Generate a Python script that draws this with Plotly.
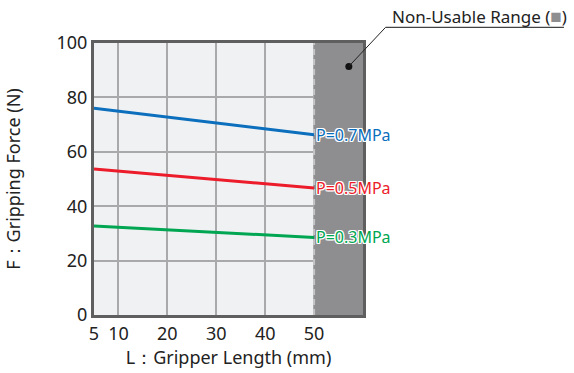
import plotly.graph_objects as go

# Data
lengths = [5, 50]
force_07 = [76.0, 66.3]
force_05 = [53.7, 46.7]
force_03 = [32.7, 28.5]
series_names = ["P=0.7MPa", "P=0.5MPa", "P=0.3MPa"]
series_colors = ["#0b6fbd", "#ec1c2a", "#00a651"]
x_ticks = [5, 10, 20, 30, 40, 50]
y_ticks = [0, 20, 40, 60, 80, 100]
usable_limit = 50
x_min, x_max = 5, 60
y_min, y_max = 0, 100
marker_point = (57.1, 91.4)

FONT = "Noto Sans"
fig = go.Figure()

# Non-usable range
fig.add_shape(type="rect", x0=usable_limit, x1=x_max, y0=y_min, y1=y_max,
              xref="x", yref="y", fillcolor="#8e8e91", line_width=0, layer="between")
fig.add_shape(type="line", x0=usable_limit, x1=usable_limit, y0=y_min, y1=y_max,
              xref="x", yref="y", line=dict(color="#c4c4c6", width=2, dash="6px,4px"), layer="between")

shadow = ", ".join(f"{dx}px {dy}px 0 #fff" for dx in (-1, 0, 1) for dy in (-1, 0, 1) if dx or dy)
for ys, name, col in zip([force_07, force_05, force_03], series_names, series_colors):
    fig.add_trace(go.Scatter(x=lengths, y=ys, mode="lines", line=dict(color=col, width=3),
                             showlegend=False, hoverinfo="skip", cliponaxis=False))
    fig.add_annotation(x=lengths[-1], y=ys[-1], text=name, showarrow=False,
                       xanchor="left", yanchor="middle", xshift=0,
                       font=dict(family=FONT, size=16, color=col, shadow=shadow))

# marker dot
fig.add_trace(go.Scatter(x=[marker_point[0]], y=[marker_point[1]], mode="markers",
                         marker=dict(color="#111", size=7), showlegend=False, hoverinfo="skip"))

# leader line and underline (paper coords)
px0 = (marker_point[0] - x_min) / (x_max - x_min)
py0 = (marker_point[1] - y_min) / (y_max - y_min)
fig.add_shape(type="line", xref="paper", yref="paper", x0=px0, y0=py0,
              x1=1.084, y1=1.0577, line=dict(color="#222", width=1))
fig.add_shape(type="line", xref="paper", yref="paper", x0=1.084, x1=1.747, y0=1.0577, y1=1.0577,
              line=dict(color="#444", width=1.2))
fig.add_annotation(xref="paper", yref="paper", x=1.1, y=1.101, xanchor="left", yanchor="middle",
                   text="Non-Usable Range (<span style='color:#8e8e91;font-size:19px'>■</span>)",
                   showarrow=False, font=dict(family=FONT, size=17, color="#222"))

fig.update_layout(
    width=574, height=373,
    margin=dict(l=89.5, r=211.3, t=43, b=58),
    paper_bgcolor="white", plot_bgcolor="#f0f1f3",
    font=dict(family=FONT, size=18, color="#222"),
    xaxis=dict(range=[x_min, x_max], tickvals=x_ticks, showgrid=True, gridcolor="#a9a9ab", gridwidth=1.5,
               showline=True, linecolor="#5f5f5f", linewidth=3, mirror=True, ticks="",
               zeroline=False, title=dict(text="L：Gripper Length (mm)", standoff=4, font=dict(size=18))),
    yaxis=dict(range=[y_min, y_max], tickvals=y_ticks, showgrid=True, gridcolor="#a9a9ab", gridwidth=1.5,
               showline=True, linecolor="#5f5f5f", linewidth=3, mirror=True, ticks="",
               zeroline=False, title=dict(text="F：Gripping Force (N)", standoff=32, font=dict(size=18))),
)

fig.write_html("out.html", config={"displayModeBar": False},
               post_script="document.body.style.margin='0';")
